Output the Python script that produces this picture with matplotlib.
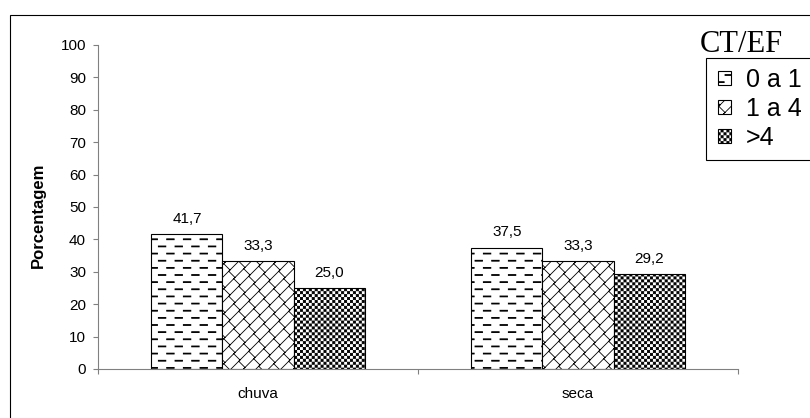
import matplotlib
matplotlib.use('Agg')
import matplotlib.pyplot as plt
from matplotlib import hatch as mhatch
from matplotlib.legend_handler import HandlerPatch
from matplotlib.patches import Rectangle
from matplotlib.path import Path

plt.rcParams['font.family'] = ['Liberation Sans', 'DejaVu Sans']
plt.rcParams['hatch.linewidth'] = 0.6

periodos = ['chuva', 'seca']
classes = ['0 a 1', '1 a 4', '>4']
# porcentagem de cada classe de CT/EF em cada periodo
v_0a1 = [41.7, 37.5]
v_1a4 = [33.3, 33.3]
v_mais4 = [25.0, 29.2]
series = [v_0a1, v_1a4, v_mais4]
hachuras = ['-', '/', '+']

QUAD = [Path.MOVETO, Path.LINETO, Path.LINETO, Path.LINETO, Path.CLOSEPOLY]


def quadrado(x, y, w, h):
    return [(x, y), (x + w, y), (x + w, y + h), (x, y + h), (x, y)]


class Tracos(mhatch.HatchPatternBase):
    # tracinhos horizontais intercalados (padrao do excel)
    rows, cols = 14, 6

    def __init__(self, hatch, density):
        self.num_vertices = self.rows * (self.cols + 2) * 5 if '-' in hatch else 0

    def set_vertices_and_codes(self, vertices, codes):
        dy, dx = 1.0 / self.rows, 1.0 / self.cols
        comp, alt = 0.075, 0.009
        i = 0
        for r in range(self.rows):
            y = (r + 0.5) * dy - alt / 2
            desl = (r % 2) * dx / 2
            for c in range(-1, self.cols + 1):
                vertices[i:i + 5] = quadrado(c * dx + desl, y, comp, alt)
                codes[i:i + 5] = QUAD
                i += 5


class Tijolos(mhatch.HatchPatternBase):
    # tijolos na diagonal
    n_lin, n_jun = 8, 10

    def __init__(self, hatch, density):
        self.on = '/' in hatch
        n = (2 * self.n_lin + 1) * 2 + (2 * self.n_lin + 2) * (self.n_jun + 4) * 2
        self.num_vertices = n if self.on else 0

    def set_vertices_and_codes(self, vertices, codes):
        d = 1.0 / self.n_lin
        i = 0
        for k in range(-self.n_lin, self.n_lin + 1):
            c = k * d
            vertices[i:i + 2] = [(-0.1, -0.1 + c), (1.1, 1.1 + c)]
            codes[i:i + 2] = [Path.MOVETO, Path.LINETO]
            i += 2
        for k in range(-self.n_lin - 1, self.n_lin + 1):
            c = k * d
            for j in range(-2, self.n_jun + 2):
                t = (j + 0.5 * (k % 2)) / self.n_jun
                vertices[i:i + 2] = [(t, t + c), (t - d / 2, t + c + d / 2)]
                codes[i:i + 2] = [Path.MOVETO, Path.LINETO]
                i += 2


class Xadrez(mhatch.HatchPatternBase):
    n = 34

    def __init__(self, hatch, density):
        self.num_vertices = self.n * self.n // 2 * 5 if '+' in hatch else 0

    def set_vertices_and_codes(self, vertices, codes):
        cel = 1.0 / self.n
        lado = cel - 0.008
        m = (cel - lado) / 2
        i = 0
        for a in range(self.n):
            for b in range(self.n):
                if (a + b) % 2:
                    continue
                vertices[i:i + 5] = quadrado(a * cel + m, b * cel + m, lado, lado)
                codes[i:i + 5] = QUAD
                i += 5


mhatch._hatch_types = [Tracos, Tijolos, Xadrez]


def quadradinho(legend, orig_handle, xdescent, ydescent, width, height, fontsize):
    return Rectangle((width - height - xdescent, -ydescent), height, height)


fig = plt.figure(figsize=(8.1, 4.18), dpi=100)
ax = fig.add_axes([98 / 810, 49 / 418, 640 / 810, 324 / 418])

largura = 0.222
centros = [0.5, 1.5]
barras = []
for i, (vals, hch) in enumerate(zip(series, hachuras)):
    xs = [c + (i - 1) * largura for c in centros]
    b = ax.bar(xs, vals, largura, color='white', edgecolor='black',
               linewidth=0.8, hatch=hch, label=classes[i])
    ax.bar_label(b, labels=[f'{v:.1f}'.replace('.', ',') for v in vals],
                 padding=6, fontsize=11)
    barras.append(b)

ax.set_xlim(0, 2)
ax.set_ylim(0, 100)
ax.set_yticks(range(0, 101, 10))
ax.set_xticks([0, 1, 2])
ax.set_xticklabels([])
ax.set_xticks(centros, minor=True)
ax.set_xticklabels(periodos, minor=True)
ax.tick_params(axis='both', which='major', direction='out', length=3.6,
               color='#808080', labelsize=11, width=0.8)
ax.tick_params(axis='y', pad=5)
ax.tick_params(axis='x', which='minor', length=0, pad=13, labelsize=11)
for s in ['top', 'right']:
    ax.spines[s].set_visible(False)
for s in ['left', 'bottom']:
    ax.spines[s].set_color('#808080')
    ax.spines[s].set_linewidth(0.8)

ax.set_ylabel('Porcentagem', fontsize=12, fontweight='bold')
ax.yaxis.set_label_coords(-0.081, 0.475)

leg = fig.legend(handles=[b[0] for b in barras], labels=classes,
                 loc='upper left', bbox_to_anchor=(706 / 810, 1 - 58 / 418),
                 borderaxespad=0, fontsize=18, frameon=True, fancybox=False,
                 shadow=False, framealpha=1, edgecolor='black',
                 borderpad=0.4, handlelength=0.6, handleheight=0.44,
                 handletextpad=0.6, labelspacing=0.2,
                 handler_map={Rectangle: HandlerPatch(patch_func=quadradinho)})
leg.get_frame().set_linewidth(0.8)
fig.text(700 / 810, 1 - 44 / 418, 'CT/EF', family='Liberation Serif',
         fontsize=22, ha='left', va='center')

# moldura externa do grafico
fig.add_artist(Rectangle((10 / 810, -0.1), 1.2, 1.1 - 15 / 418,
                         transform=fig.transFigure, fill=False,
                         edgecolor='black', linewidth=0.8))

fig.savefig('out.png', dpi=100)
